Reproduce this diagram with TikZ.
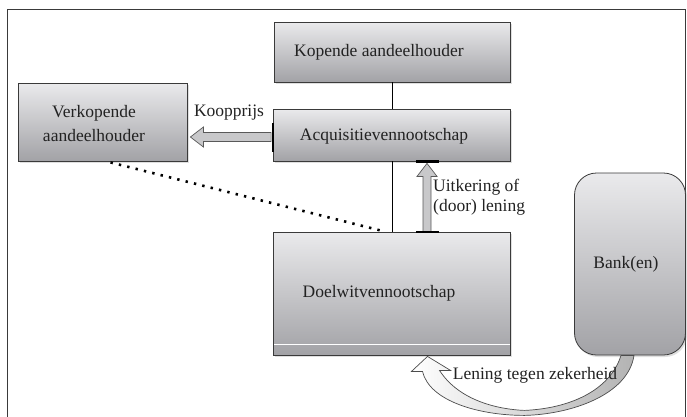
\documentclass[tikz,border=0pt]{standalone}
\usepackage{fontspec}
\setmainfont{Liberation Serif}
\usetikzlibrary{calc,shadows}
\definecolor{boxtop}{HTML}{EAEAEC}
\definecolor{boxbot}{HTML}{A2A2A6}
\definecolor{edge}{HTML}{3A3A3A}
\definecolor{txt}{HTML}{222222}
\definecolor{arrfill}{HTML}{C8C8CA}
\begin{document}
\begin{tikzpicture}[x=1pt,y=-1pt,
  box/.style={draw=edge, line width=0.8pt, top color=boxtop, bottom color=boxbot,
    inner sep=0pt, drop shadow={shadow xshift=1.5pt, shadow yshift=-2pt, opacity=0.25}},
  lbl/.style={text=txt, font=\fontsize{17.5}{21}\selectfont, inner sep=0pt, align=center},
  hollow/.style={draw=gray!70!black, line width=0.7pt, fill=arrfill},
  bar/.style={line width=2.2pt, black},
  conn/.style={line width=0.8pt, black}]
\useasboundingbox (0,0) rectangle (687,416);
\draw[edge, line width=1.4pt] (7.5,9.5) rectangle (685.5,430);
% boxes
\node[box, minimum width=236pt, minimum height=60pt] (kop) at (392,52) {};
\node[box, minimum width=237pt, minimum height=52pt] (acq) at (392,135) {};
\node[box, minimum width=169pt, minimum height=78pt] (verk) at (102.5,122) {};
\node[box, minimum width=237pt, minimum height=123pt] (doel) at (392,293.5) {};
\node[box, rounded corners=22pt, minimum width=111pt, minimum height=182pt] (bank) at (630,264) {};
\draw[white, line width=1pt] ($(doel.south west)+(1,-11)$) -- ($(doel.south east)+(-1,-11)$);
% labels
\node[lbl] (tkop) at (379,52) {Kopende aandeelhouder};
\node[lbl] (tacq) at (384,136) {Acquisitievennootschap};
\node[lbl, font=\fontsize{17.5}{24}\selectfont] (tverk) at (94,124) {Verkopende\\aandeelhouder};
\node[lbl] (tdoel) at (379,293) {Doelwitvennootschap};
\node[lbl] (tbank) at (626,264) {Bank(en)};
\node[lbl] (tkoop) at (229,113) {Koopprijs};
\node[lbl, align=left, anchor=west, font=\fontsize{17.5}{19.5}\selectfont] (tuit) at (433,197) {Uitkering of\\(door) lening};
% connectors
\draw[conn] (kop.south) -- (acq.north);
\draw[conn] (acq.south) -- (doel.north);
% dotted
\coordinate (d1) at ($(verk.south)+(8,1)$);
\coordinate (d2) at ($(doel.north)+(-7,0)$);
\draw[black, line width=2.6pt, dash pattern=on 2.4pt off 6.2pt] (d1) -- (d2);
% up arrow
\coordinate (ub) at ($(doel.north)+(35,0)$);
\coordinate (ut) at ($(acq.south)+(35,0)$);
\draw[hollow] ($(ub)+(-4,0)$) -- ($(ut)+(-4,15)$) -- ($(ut)+(-10,15)$) -- ($(ut)+(0,2)$)
  -- ($(ut)+(10,15)$) -- ($(ut)+(4,15)$) -- ($(ub)+(4,0)$) -- cycle;
\draw[bar] ($(ut)+(-11,0)$) -- ($(ut)+(12,0)$);
\draw[bar] ($(ub)+(-11,0)$) -- ($(ub)+(12,0)$);
% koopprijs arrow
\coordinate (kb) at ($(acq.west)+(-2,2)$);
\coordinate (kt) at ($(verk.east)+(3,15)$);
\draw[hollow] ($(kb)+(0,-4.5)$) -- ($(kt)+(13,-4.5)$) -- ($(kt)+(13,-10)$) -- (kt)
  -- ($(kt)+(13,10)$) -- ($(kt)+(13,4.5)$) -- ($(kb)+(0,4.5)$) -- cycle;
\draw[bar] ($(acq.west)+(0,-12)$) -- ($(acq.west)+(0,17)$);
% curved arrow
\coordinate (ct) at ($(doel.south)+(35.5,1)$);
\coordinate (cb) at ($(bank.south)+(-2,0)$);
\draw[draw=gray!60!black, line width=0.7pt, left color=white, right color=gray!60]
  (ct) -- ($(ct)+(23,14)$) -- ($(ct)+(12,14)$)
  .. controls ($(ct)+(32,45)$) and ($(ct)+(72,53)$) .. ($(ct)+(97,54)$)
  .. controls ($(cb)+(-58,53)$) and ($(cb)+(-18,35)$) .. ($(cb)+(-7,0)$)
  -- ($(cb)+(6,0)$)
  .. controls ($(cb)+(0,40)$) and ($(cb)+(-58,59)$) .. ($(ct)+(97,59)$)
  .. controls ($(ct)+(52,59)$) and ($(ct)+(2,45)$) .. ($(ct)+(-5,15)$)
  -- ($(ct)+(-16,15)$) -- cycle;
\node[lbl] (tlen) at (535,375) {Lening tegen zekerheid};
\end{tikzpicture}
\end{document}
